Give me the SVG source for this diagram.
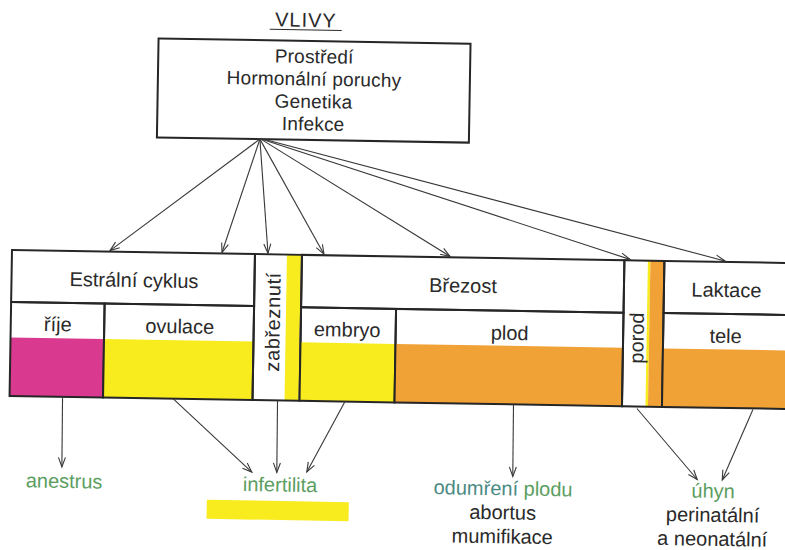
<svg xmlns="http://www.w3.org/2000/svg" width="785" height="550" viewBox="0 0 785 550">
  <style>
    text { font-family: "Liberation Sans", Arial, sans-serif; font-size: 20px; fill: #2a2a2a; }
    .mid { text-anchor: middle; }
    .box { font-size: 19px; letter-spacing: 0.2px; }
    .green { fill: #5b9e5f; }
    .teal { fill: #4b8a84; }
    .cell { fill: none; stroke: #262626; stroke-width: 2; }
    .pink { fill: #d93a8f; }
    .yellow { fill: #f8ec1e; }
    .orange { fill: #f1a236; }
    .arrow { fill: none; stroke: #383838; stroke-width: 1.1; marker-end: url(#open); }
  </style>
  <defs>
    <marker id="open" viewBox="0 0 10 8" refX="10" refY="4" markerWidth="10" markerHeight="8" markerUnits="userSpaceOnUse" orient="auto" overflow="visible">
      <path d="M0.5,0.5 L10,4 L0.5,7.5" fill="none" stroke="#383838" stroke-width="1.1"/>
    </marker>
  </defs>
  <rect width="785" height="550" fill="#ffffff"/>

  <!-- whole sheet sits slightly tilted -->
  <g transform="rotate(0.96 12 250)">

    <!-- title -->
    <g id="title">
      <text class="mid" x="302" y="22" style="letter-spacing:1px">VLIVY</text>
      <line x1="266" y1="25" x2="338" y2="25" stroke="#2a2a2a" stroke-width="1"/>
    </g>

    <!-- influences box -->
    <g id="vlivy">
      <rect class="cell" x="155" y="36" width="312" height="99"/>
      <text class="mid box" x="311" y="58">Prostředí</text>
      <text class="mid box" x="311" y="80.5">Hormonální poruchy</text>
      <text class="mid box" x="311" y="103">Genetika</text>
      <text class="mid box" x="311" y="125.5">Infekce</text>
    </g>

    <!-- oestrous cycle -->
    <g id="estralni-cyklus">
      <rect class="cell" x="12" y="250" width="243" height="52"/>
      <text class="mid" x="134.5" y="285">Estrální cyklus</text>
      <g id="rije">
        <rect class="pink" x="12" y="337.5" width="93.5" height="58.5"/>
        <rect class="cell" x="12" y="302" width="93.5" height="94"/>
        <text class="mid" x="59" y="330.5">říje</text>
      </g>
      <g id="ovulace">
        <rect class="yellow" x="105.5" y="337.5" width="149.5" height="58.5"/>
        <rect class="cell" x="105.5" y="302" width="149.5" height="94"/>
        <text class="mid" x="181" y="330.5">ovulace</text>
      </g>
    </g>

    <!-- conception -->
    <g id="zabreznuti">
      <rect class="yellow" x="287" y="250" width="14" height="146"/>
      <rect class="cell" x="255" y="250" width="47" height="146"/>
      <text class="mid" transform="translate(281 317.5) rotate(-90)" style="letter-spacing:0.6px">zabřeznutí</text>
    </g>

    <!-- pregnancy -->
    <g id="brezost">
      <rect class="cell" x="302" y="250" width="322.5" height="52.5"/>
      <text class="mid" x="463.5" y="285">Březost</text>
      <g id="embryo">
        <rect class="yellow" x="302" y="337.5" width="95" height="58.5"/>
        <rect class="cell" x="302" y="302.5" width="95" height="93.5"/>
        <text class="mid" x="348.5" y="331">embryo</text>
      </g>
      <g id="plod">
        <rect class="orange" x="397" y="337.5" width="227.5" height="58.5"/>
        <rect class="cell" x="397" y="302.5" width="227.5" height="93.5"/>
        <text class="mid" x="511" y="331.5">plod</text>
      </g>
    </g>

    <!-- birth -->
    <g id="porod">
      <rect class="yellow" x="648" y="250" width="2.5" height="146"/>
      <rect class="orange" x="650.5" y="250" width="14" height="146"/>
      <rect class="cell" x="624.5" y="250" width="40" height="146"/>
      <text class="mid" transform="translate(645 327.5) rotate(-90)">porod</text>
    </g>

    <!-- lactation -->
    <g id="laktace">
      <rect class="cell" x="664.5" y="250" width="150" height="52"/>
      <text class="mid" x="727" y="285">Laktace</text>
      <g id="tele">
        <rect class="orange" x="664.5" y="337.5" width="150" height="58.5"/>
        <rect class="cell" x="664.5" y="302" width="150" height="94"/>
        <text class="mid" x="727" y="331">tele</text>
      </g>
    </g>

    <!-- outcomes -->
    <g id="anestrus">
      <text class="mid green" x="68" y="487">anestrus</text>
    </g>
    <g id="infertilita">
      <text class="mid green" x="284" y="487">infertilita</text>
      <rect class="yellow" x="211" y="496.5" width="142" height="19"/>
    </g>
    <g id="odumreni-plodu">
      <text class="mid" x="507" y="487"><tspan class="teal">odumření</tspan><tspan class="green"> plodu</tspan></text>
      <text class="mid" x="507" y="511">abortus</text>
      <text class="mid" x="507" y="535">mumifikace</text>
    </g>
    <g id="uhyn">
      <text class="mid green" x="717" y="486">úhyn</text>
      <text class="mid" x="717" y="510">perinatální</text>
      <text class="mid" x="717" y="534">a neonatální</text>
    </g>

    <!-- connectors -->
    <g id="connectors">
      <line class="arrow" x1="258" y1="135" x2="110" y2="249"/>
      <line class="arrow" x1="258" y1="135" x2="222" y2="249"/>
      <line class="arrow" x1="258" y1="135" x2="268" y2="249"/>
      <line class="arrow" x1="258" y1="135" x2="324" y2="249"/>
      <line class="arrow" x1="259" y1="135" x2="450" y2="249"/>
      <line class="arrow" x1="260" y1="135" x2="630" y2="249"/>
      <line class="arrow" x1="262" y1="135" x2="725" y2="249"/>

      <line class="arrow" x1="65" y1="396" x2="65.5" y2="466"/>
      <line class="arrow" x1="175.5" y1="396" x2="255.5" y2="468"/>
      <line class="arrow" x1="280" y1="396" x2="280.5" y2="468"/>
      <line class="arrow" x1="347.5" y1="396" x2="310.5" y2="467"/>
      <line class="arrow" x1="516" y1="396" x2="516.5" y2="468"/>
      <line class="arrow" x1="639.5" y1="398" x2="701" y2="468"/>
      <line class="arrow" x1="755.5" y1="397" x2="726" y2="468"/>
    </g>
  </g>
</svg>
